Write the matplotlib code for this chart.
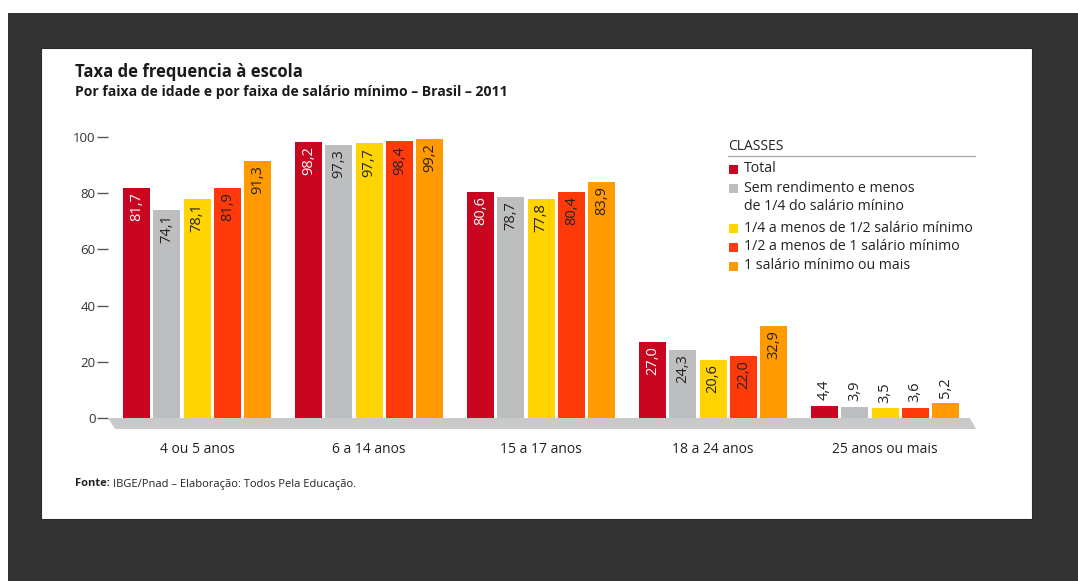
import matplotlib.pyplot as plt
from matplotlib.patches import Rectangle, Polygon
import numpy as np

plt.rcParams['font.family'] = ['Open Sans', 'DejaVu Sans']

W, H = 1078, 581

faixas = ['4 ou 5 anos', '6 a 14 anos', '15 a 17 anos', '18 a 24 anos', '25 anos ou mais']
classes = ['Total',
           'Sem rendimento e menos\nde 1/4 do salário mínino',
           '1/4 a menos de 1/2 salário mínimo',
           '1/2 a menos de 1 salário mínimo',
           '1 salário mínimo ou mais']
total = [81.7, 98.2, 80.6, 27.0, 4.4]
sem_rend = [74.1, 97.3, 78.7, 24.3, 3.9]
quarto_meio = [78.1, 97.7, 77.8, 20.6, 3.5]
meio_um = [81.9, 98.4, 80.4, 22.0, 3.6]
um_mais = [91.3, 99.2, 83.9, 32.9, 5.2]
series = [total, sem_rend, quarto_meio, meio_um, um_mais]
cores = ['#C9061F', '#BDBEC0', '#FFD400', '#FF3A0A', '#FF9A00']
cor_rotulo = ['white', '#222222', '#222222', '#222222', '#222222']
yticks = [0, 20, 40, 60, 80, 100]


def fx(px):
    return px / W


def fy(py):
    return 1 - py / H


fig = plt.figure(figsize=(W / 100, H / 100), dpi=100)
fig.patch.set_facecolor('white')

# moldura escura e painel branco
fig.patches.append(Rectangle((fx(8), 0), fx(W) - fx(8), fy(13), transform=fig.transFigure,
                             facecolor='#333333', edgecolor='none', zorder=-2))
fig.patches.append(Rectangle((fx(41), fy(519)), fx(1032) - fx(41), fy(48) - fy(519),
                             transform=fig.transFigure, facecolor='white',
                             edgecolor='#2a2a2a', linewidth=0.8, zorder=-1))

# eixo: y=0 em 418px, y=100 em 137px; grupos a cada 172px a partir de 197px
left_px, right_px = 108, 976
ax = fig.add_axes([fx(left_px), fy(418), fx(right_px) - fx(left_px), fy(137) - fy(418)])
ax.set_facecolor('none')
pitch = 172.0
x0 = (left_px - 197) / pitch
x1 = (right_px - 197) / pitch
ax.set_xlim(x0, x1)
ax.set_ylim(0, 100)

x = np.arange(len(faixas))
passo = 30.3 / pitch
largura = 27 / pitch
for i, (vals, cor) in enumerate(zip(series, cores)):
    pos = x + (i - 2) * passo
    ax.bar(pos, vals, width=largura, color=cor, zorder=3)
    for xp, v in zip(pos, vals):
        txt = f'{v:.1f}'.replace('.', ',')
        if v > 15:
            ax.annotate(txt, (xp, v), xytext=(0, -3), textcoords='offset points',
                        rotation=90, ha='center', va='top', fontsize=10.5,
                        color=cor_rotulo[i], zorder=4)
        else:
            ax.annotate(txt, (xp, v), xytext=(0, 4), textcoords='offset points',
                        rotation=90, ha='center', va='bottom', fontsize=10.5,
                        color='#222222', zorder=4)

# piso cinza sob as barras
d = 11 / 2.81
piso = Polygon([(x0, 0), (x1 - 6 / pitch, 0), (x1, -d), (x0 + 7 / pitch, -d)],
               closed=True, facecolor='#C8C9CB', edgecolor='none', clip_on=False, zorder=2)
ax.add_patch(piso)

ax.set_yticks(yticks)
ax.set_yticklabels([str(t) for t in yticks], fontsize=9.5, color='#333333')
ax.tick_params(axis='y', length=8, width=1, color='#555555', pad=1)
ax.set_xticks(x)
ax.set_xticklabels(faixas, fontsize=10, color='#222222')
ax.tick_params(axis='x', length=0, pad=17)
for s in ax.spines.values():
    s.set_visible(False)

# títulos e fonte
fig.text(fx(75), fy(72), 'Taxa de frequencia à escola', fontsize=12, fontweight='bold',
         color='#1a1a1a', va='center', ha='left')
fig.text(fx(75), fy(92), 'Por faixa de idade e por faixa de salário mínimo – Brasil – 2011',
         fontsize=10.1, fontweight='bold', color='#1a1a1a', va='center', ha='left')
t_fonte = fig.text(fx(75), fy(484), 'Fonte:', fontsize=8, fontweight='bold',
                   color='#222222', va='center', ha='left')
fig.canvas.draw()
bb = t_fonte.get_window_extent()
fig.text(bb.x1 / W + fx(3), fy(484), 'IBGE/Pnad – Elaboração: Todos Pela Educação.',
         fontsize=8, color='#222222', va='center', ha='left')

# legenda
fig.text(fx(728), fy(146), 'CLASSES', fontsize=10, color='#222222', va='center', ha='left')
fig.add_artist(plt.Line2D([fx(728), fx(975)], [fy(156), fy(156)], color='#B0B0B0', lw=1))
linhas_y = [169, 188, 228, 247, 266]
for rot, cor, ly in zip(classes, cores, linhas_y):
    fig.patches.append(Rectangle((fx(729), fy(ly + 4.5)), fx(9), 9 / H, transform=fig.transFigure,
                                 facecolor=cor, edgecolor='none'))
    for k, p in enumerate(rot.split('\n')):
        fig.text(fx(744), fy(ly + 19 * k), p, fontsize=10.2, color='#222222', va='center', ha='left')

fig.savefig('out.png', dpi=100)
